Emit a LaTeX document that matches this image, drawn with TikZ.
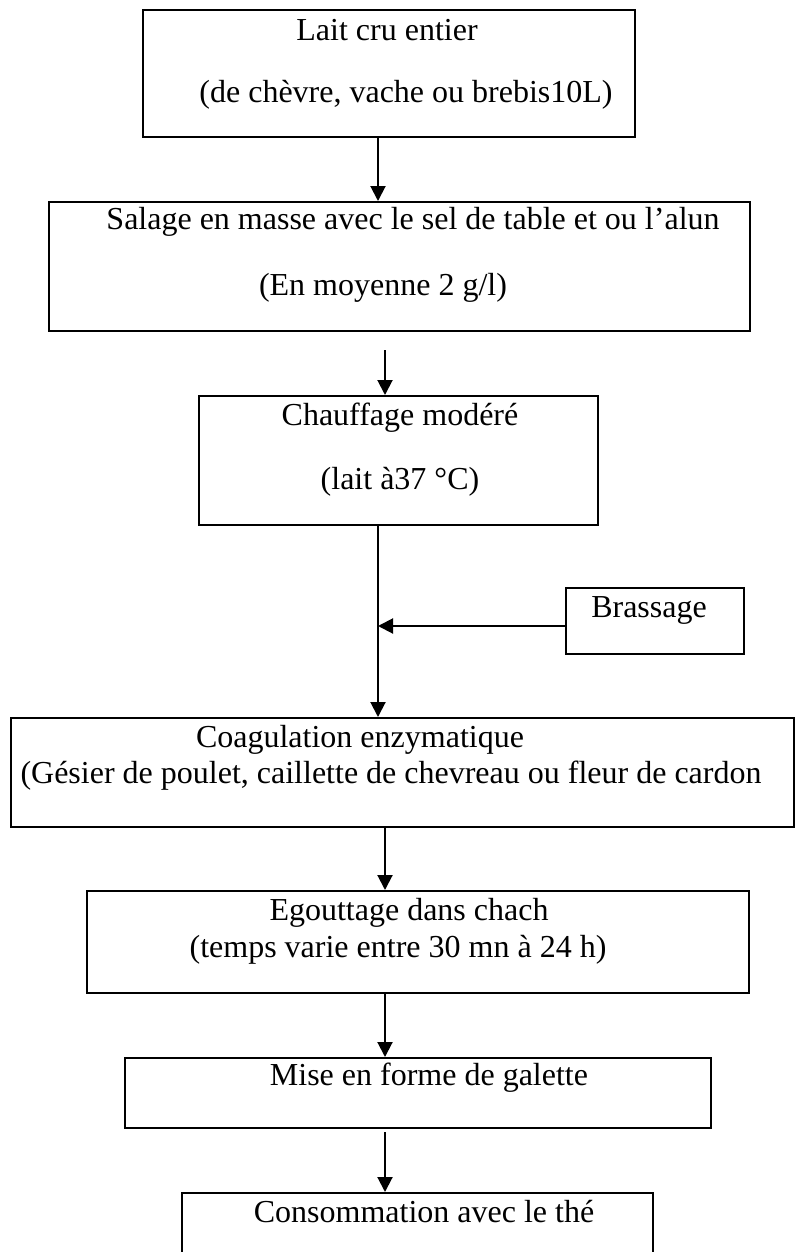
\documentclass[tikz,border=0pt]{standalone}
\usepackage{fontspec}
\setmainfont{Liberation Serif}
\usetikzlibrary{arrows.meta}
\tikzset{
	boite/.style = {draw, line width=1pt, rectangle, inner sep=0pt},
	texte/.style = {inner sep=0pt, font=\fontsize{16}{19}\selectfont},
	fleche/.style = {line width=1pt, -{Triangle[length=7.5pt,width=7.5pt]}}
}
\begin{document}
\begin{tikzpicture}[x=0.5pt, y=-0.5pt]
	\clip (0,0) rectangle (795,1252);
	\fill [white] (0,0) rectangle (795,1252);
	\coordinate (axeA) at (378,0);
	\coordinate (axeB) at (385,0);
	\node [boite, minimum width=246pt, minimum height=63.5pt] (lait) at (389,73.5) {};
	\node [texte] (lait1) at (387,30) {Lait cru entier};
	\node [texte] (lait2) at (406,95) {(de chèvre, vache ou brebis10L)};
	\node [boite, minimum width=350.5pt, minimum height=64.5pt] (salage) at (399.5,266.5) {};
	\node [texte] (salage1) at (413,222) {Salage en masse avec le sel de table et ou l’alun};
	\node [texte] (salage2) at (383,288) {(En moyenne 2 g/l)};
	\node [boite, minimum width=199.5pt, minimum height=64.5pt] (chauffage) at (398.5,460.5) {};
	\node [texte] (chauffage1) at (400,418) {Chauffage modéré};
	\node [texte] (chauffage2) at (400,482) {(lait à37 °C)};
	\node [boite, minimum width=89pt, minimum height=33pt] (brassage) at (655,621) {};
	\node [texte] (brassage1) at (649,610) {Brassage};
	\node [boite, minimum width=391.5pt, minimum height=54.5pt] (coag) at (402.5,772.5) {};
	\node [texte] (coag1) at (360,740) {Coagulation enzymatique};
	\node [texte] (coag2) at (391,776) {(Gésier de poulet, caillette de chevreau ou fleur de cardon};
	\node [boite, minimum width=331pt, minimum height=51pt] (egout) at (418,942) {};
	\node [texte] (egout1) at (409,913) {Egouttage dans chach};
	\node [texte] (egout2) at (398,950) {(temps varie entre 30 mn à 24 h)};
	\node [boite, minimum width=293pt, minimum height=35pt] (galette) at (418,1093) {};
	\node [texte] (galette1) at (429,1078) {Mise en forme de galette};
	\node [boite, minimum width=235.5pt, minimum height=41pt] (conso) at (417.5,1234) {};
	\node [texte] (conso1) at (424,1212) {Consommation avec le thé};
	\draw [fleche] (lait.south -| axeA) -- (salage.north -| axeA);
	\draw [fleche, shorten <=9pt] (salage.south -| axeB) -- (chauffage.north -| axeB);
	\draw [fleche] (chauffage.south -| axeA) -- (coag.north -| axeA);
	\draw [fleche] ([yshift=-2.5pt]brassage.west) -- ([yshift=-2.5pt]brassage.west -| axeA);
	\draw [fleche] (coag.south -| axeB) -- (egout.north -| axeB);
	\draw [fleche] (egout.south -| axeB) -- (galette.north -| axeB);
	\draw [fleche, shorten <=1.5pt] (galette.south -| axeB) -- (conso.north -| axeB);
\end{tikzpicture}
\end{document}
